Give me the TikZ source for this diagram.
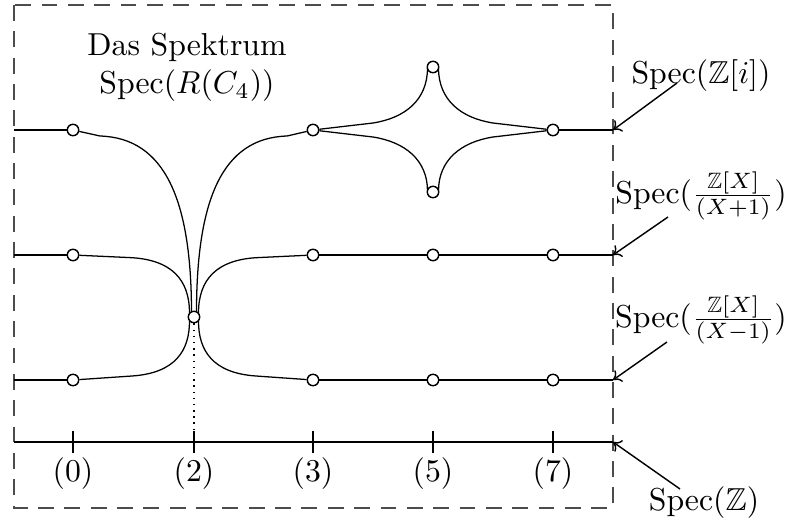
\documentclass[tikz,border=0pt]{standalone}
\usepackage{amssymb}
\usetikzlibrary{arrows.meta,backgrounds}
\begin{document}
\begin{tikzpicture}[x=0.315pt,y=-0.315pt, line width=0.45pt,
  pt/.style={circle,draw,fill=white,inner sep=0pt,minimum size=3.6pt,line width=0.45pt},
  lbl/.style={inner sep=0pt},
  ptr/.style={-{To[length=2.4pt,width=4.4pt]}},
  frame/.style={draw=black!70,dash pattern=on 5pt off 3.3pt,line width=0.45pt},
  dotline/.style={dash pattern=on 0.45pt off 1.5pt,line width=0.45pt}]
\useasboundingbox (0,0) rectangle (791,525);
% points
\node[pt] (a0) at (73,130) {};
\node[pt] (a3) at (313,130) {};
\node[pt] (a7) at (553,130) {};
\node[pt] (s1) at (433,67) {};
\node[pt] (s2) at (433,192) {};
\node[pt] (b0) at (73,255) {};
\node[pt] (b3) at (313,255) {};
\node[pt] (b5) at (433,255) {};
\node[pt] (b7) at (553,255) {};
\node[pt] (c0) at (73,380) {};
\node[pt] (c3) at (313,380) {};
\node[pt] (c5) at (433,380) {};
\node[pt] (c7) at (553,380) {};
\node[pt] (m2) at (194,317) {};
% ends
\coordinate (la) at (14,130); \coordinate (ra) at (613,130);
\coordinate (lb) at (14,255); \coordinate (rb) at (613,255);
\coordinate (lc) at (14,380); \coordinate (rc) at (613,380);
\coordinate (ld) at (14,442); \coordinate (rd) at (613,442);
\coordinate (z0) at (73,442); \coordinate (z2) at (194,442);
\coordinate (z3) at (313,442); \coordinate (z5) at (433,442);
\coordinate (z7) at (553,442);
\coordinate (f1) at (14,5); \coordinate (f2) at (613,508);
% labels
\node[lbl,align=center] (title) at (187,67) {Das Spektrum\\ $\mathrm{Spec}(R(C_4))$};
\node[lbl] (la1) at (701,76) {$\mathrm{Spec}(\mathbb{Z}[i])$};
\node[lbl] (la2) at (701,196) {$\mathrm{Spec}(\frac{\mathbb{Z}[X]}{(X+1)})$};
\node[lbl] (la3) at (701,320) {$\mathrm{Spec}(\frac{\mathbb{Z}[X]}{(X-1)})$};
\node[lbl] (la4) at (704,503) {$\mathrm{Spec}(\mathbb{Z})$};
\node[lbl] (n0) at (73,474) {$(0)$};
\node[lbl] (n2) at (194,474) {$(2)$};
\node[lbl] (n3) at (313,474) {$(3)$};
\node[lbl] (n5) at (433,474) {$(5)$};
\node[lbl] (n7) at (553,474) {$(7)$};
\coordinate (q1) at (677,83);
\coordinate (q2) at (668,217);
\coordinate (q3) at (667,342);
\coordinate (q4) at (680,489);
\begin{scope}[on background layer]
\draw[frame] (f1) rectangle (f2);
% top row
\draw (la) -- (a0);
\draw (a0) -- (100,136) .. controls (165,138) and (191.5,200) .. (191.5,313);
\draw (a3) -- (287,136) .. controls (222,138) and (196.5,200) .. (196.5,313);
\draw (a3) -- (373,123) .. controls (405,118) and (427.5,100) .. (427.5,68);
\draw (a3) -- (373,137) .. controls (405,142) and (427.5,160) .. (427.5,191);
\draw (a7) -- (493,123) .. controls (461,118) and (438.5,100) .. (438.5,68);
\draw (a7) -- (493,137) .. controls (461,142) and (438.5,160) .. (438.5,191);
\draw (a7) -- (ra);
% middle row
\draw (lb) -- (b0);
\draw (b0) -- (128,257.5) .. controls (172,259) and (189.5,280) .. (189.5,313);
\draw (b3) -- (260,257.5) .. controls (216,259) and (198.5,280) .. (198.5,313);
\draw (b3) -- (b5) -- (b7) -- (rb);
% lower row
\draw (lc) -- (c0);
\draw (c0) -- (132,376) .. controls (176,373) and (189.5,350) .. (189.5,321);
\draw (c3) -- (256,376) .. controls (212,373) and (198.5,350) .. (198.5,321);
\draw (c3) -- (c5) -- (c7) -- (rc);
% axis
\draw (ld) -- (rd);
\foreach \p in {z0,z2,z3,z5,z7} \draw ([yshift=3.4pt]\p) -- ([yshift=-3.4pt]\p);
\draw[dotline] (m2) -- (z2);
\end{scope}
\draw[ptr] (q1) -- (ra);
\draw[ptr] (q2) -- (rb);
\draw[ptr] (q3) -- (rc);
\draw[ptr] (q4) -- (rd);
\end{tikzpicture}
\end{document}
